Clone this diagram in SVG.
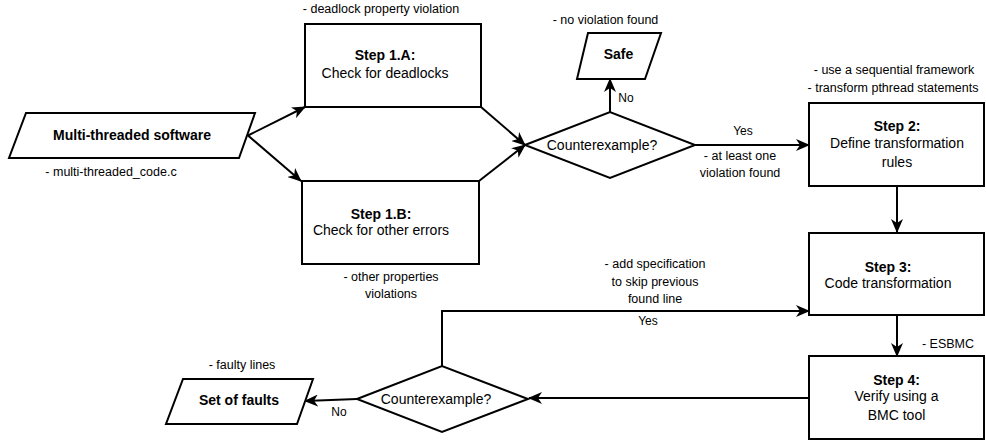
<svg xmlns="http://www.w3.org/2000/svg" width="986" height="441" viewBox="0 0 986 441">
<style>
.shape{fill:#fff;stroke:#000;stroke-width:2}
.edge{fill:none;stroke:#000;stroke-width:2;marker-end:url(#arr)}
text{font-family:"Liberation Sans",Arial,sans-serif;fill:#000;text-anchor:middle}
.main{font-size:14px}
.b{font-size:14px;font-weight:bold}
.note{font-size:12.5px}
.lbl{font-size:12px}
</style>
<defs>
<marker id="arr" markerUnits="userSpaceOnUse" markerWidth="14" markerHeight="12" viewBox="0 0 14 12" refX="13" refY="6" orient="auto">
<path d="M0,0 L14,6 L0,12 L4,6 z" fill="#000"/>
</marker>
</defs>
<rect width="986" height="441" fill="#fff"/>
<g id="connectors">
<line class="edge" x1="248" y1="135.5" x2="305" y2="107"/>
<line class="edge" x1="248" y1="135.5" x2="301" y2="181"/>
<line class="edge" x1="481" y1="107" x2="525" y2="145"/>
<line class="edge" x1="479" y1="181" x2="525" y2="145"/>
<line class="edge" x1="610" y1="112" x2="610" y2="79"/>
<line class="edge" x1="695" y1="145" x2="809" y2="145"/>
<line class="edge" x1="897" y1="186" x2="897" y2="232"/>
<line class="edge" x1="897" y1="315" x2="897" y2="356"/>
<line class="edge" x1="809" y1="398" x2="529" y2="398"/>
<polyline class="edge" points="442,366 442,311 809,311"/>
<line class="edge" x1="357" y1="399" x2="305" y2="401"/>
<text class="lbl" x="626" y="102">No</text>
<text class="lbl" x="743" y="135">Yes</text>
<text class="note" x="740" y="159.5">- at least one</text>
<text class="note" x="740" y="177">violation found</text>
<text class="note" x="655" y="268">- add specification</text>
<text class="note" x="655" y="285.5">to skip previous</text>
<text class="note" x="655" y="303">found line</text>
<text class="lbl" x="648" y="324.5">Yes</text>
<text class="note" x="948" y="348">- ESBMC</text>
<text class="lbl" x="339" y="416">No</text>
</g>
<g id="software">
<polygon class="shape" points="26,113 255,113 239,158 9,158"/>
<text class="b" x="132" y="140">Multi-threaded software</text>
<text class="note" x="111" y="176">- multi-threaded_code.c</text>
</g>
<g id="step1a">
<rect class="shape" x="305" y="24" width="176" height="83"/>
<text class="b" x="385" y="60">Step 1.A:</text>
<text class="main" x="385" y="77.5">Check for deadlocks</text>
<text class="note" x="381" y="13">- deadlock property violation</text>
</g>
<g id="step1b">
<rect class="shape" x="302" y="181" width="177" height="83"/>
<text class="b" x="381" y="218.5">Step 1.B:</text>
<text class="main" x="381" y="235">Check for other errors</text>
<text class="note" x="391" y="281">- other properties</text>
<text class="note" x="391" y="298">violations</text>
</g>
<g id="decision1">
<polygon class="shape" points="525,145 610,112 695,145 610,178"/>
<text class="main" x="602" y="150">Counterexample?</text>
</g>
<g id="safe">
<polygon class="shape" points="588,33 661,33 645,79 577,79"/>
<text class="b" x="618.5" y="58.5">Safe</text>
<text class="note" x="605.5" y="23.5">- no violation found</text>
</g>
<g id="step2">
<rect class="shape" x="809" y="103" width="175" height="83"/>
<text class="b" x="897" y="131">Step 2:</text>
<text class="main" x="897" y="148">Define transformation</text>
<text class="main" x="897" y="167">rules</text>
<text class="note" x="894" y="74">- use a sequential framework</text>
<text class="note" x="893" y="92">- transform pthread statements</text>
</g>
<g id="step3">
<rect class="shape" x="809" y="233" width="175" height="82"/>
<text class="b" x="888" y="272">Step 3:</text>
<text class="main" x="888" y="287.5">Code transformation</text>
</g>
<g id="step4">
<rect class="shape" x="809" y="356" width="175" height="83"/>
<text class="b" x="896.5" y="385">Step 4:</text>
<text class="main" x="896.5" y="401">Verify using a</text>
<text class="main" x="896.5" y="420">BMC tool</text>
</g>
<g id="decision2">
<polygon class="shape" points="357,399 442,366 528,399 442,432"/>
<text class="main" x="436" y="403.5">Counterexample?</text>
</g>
<g id="faults">
<polygon class="shape" points="183,379 313,379 297,424 166,424"/>
<text class="b" x="239" y="405">Set of faults</text>
<text class="note" x="242" y="368.5">- faulty lines</text>
</g>
</svg>
